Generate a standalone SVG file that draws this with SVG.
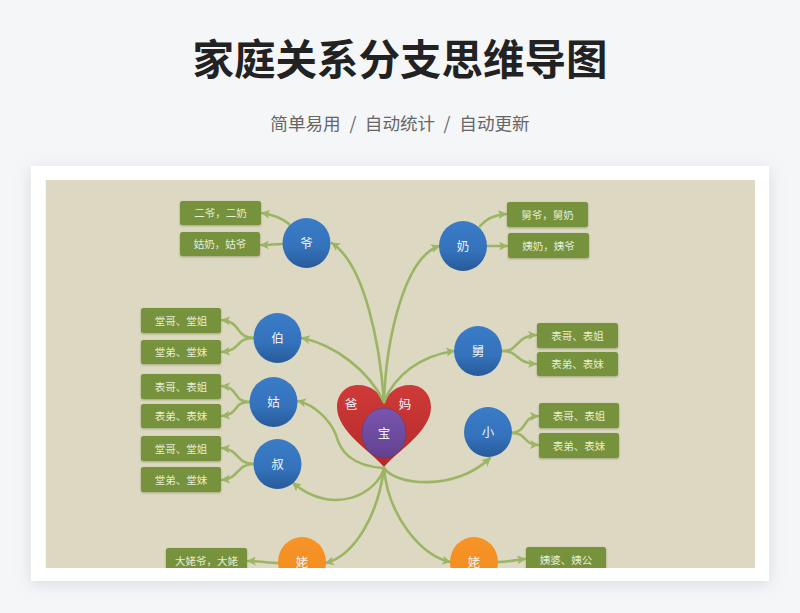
<svg xmlns="http://www.w3.org/2000/svg" width="800" height="613" viewBox="0 0 800 613">
<style>
.title{font:700 41.500px "Noto Sans CJK SC",sans-serif;fill:#222;text-anchor:middle}
.sub{font:400 17.600px "Noto Sans CJK SC",sans-serif;fill:#666;text-anchor:middle}
.box{fill:#76923c;filter:url(#ns)}
.bt{font:400 10.500px "Noto Sans CJK SC",sans-serif;fill:#e6ecd6;text-anchor:middle}
.ct{font:400 12.500px "Noto Sans CJK SC",sans-serif;fill:#eef3fa;text-anchor:middle}
.c{fill:none;stroke:#9bb564;stroke-width:2.600;stroke-linecap:round}
.a{marker-end:url(#arr)}
</style>
<defs>
<linearGradient id="blue" x1="0" y1="0" x2="0" y2="1"><stop offset="0" stop-color="#3a7cc8"/><stop offset=".6" stop-color="#3472bb"/><stop offset="1" stop-color="#285a9a"/></linearGradient>
<linearGradient id="orange" x1="0" y1="0" x2="0" y2="1"><stop offset="0" stop-color="#f79428"/><stop offset="1" stop-color="#f28a1c"/></linearGradient>
<linearGradient id="red" x1="0" y1="0" x2="0" y2="1"><stop offset="0" stop-color="#cf3a38"/><stop offset="1" stop-color="#b32a2a"/></linearGradient>
<linearGradient id="pur" x1="0" y1="0" x2="0" y2="1"><stop offset="0" stop-color="#7a55ae"/><stop offset="1" stop-color="#63418f"/></linearGradient>
<marker id="arr" viewBox="0 0 8 8" refX="7" refY="4" markerWidth="9" markerHeight="9" markerUnits="userSpaceOnUse" orient="auto"><path d="M0 0L8 4L0 8L2 4Z" fill="#9bb564"/></marker>
<filter id="card" x="-10%" y="-10%" width="120%" height="125%"><feDropShadow dx="0" dy="3" stdDeviation="8" flood-color="#8a94a6" flood-opacity=".28"/></filter>
<filter id="ns" x="-10%" y="-20%" width="120%" height="140%"><feDropShadow dx="0" dy="1" stdDeviation=".8" flood-color="#6d7a45" flood-opacity=".55"/></filter>
<clipPath id="clip"><rect x="45.500" y="180" width="709.500" height="388"/></clipPath>
</defs>
<rect width="800" height="613" fill="#f5f6f8"/>
<text class="title" x="400" y="75">家庭关系分支思维导图</text>
<g class="sub"><text x="305.500" y="130">简单易用</text><text x="353" y="130">/</text><text x="400" y="130">自动统计</text><text x="447" y="130">/</text><text x="494.500" y="130">自动更新</text></g>
<rect x="31" y="166" width="738" height="415" fill="#fff" filter="url(#card)"/>
<g clip-path="url(#clip)">
<rect x="45.500" y="180" width="709.500" height="388" fill="#ddd8c2"/>
<g id="heart"><path d="M384 467C372 452 337 432 337 407C337 394 346 385 358 385C371 385 381 393 384 404C387 393 397 385 410 385C422 385 431 394 431 407C431 432 396 452 384 467Z" fill="url(#red)"/><text class="ct" x="351" y="409">爸</text><text class="ct" x="405" y="409">妈</text></g>
<g id="connectors">
<path class="c a" d="M384 402C380 345 365 265 332 243"/>
<path class="c a" d="M384 402C386 340 404 258 439 246"/>
<path class="c a" d="M384 402C368 370 335 345 302 338"/>
<path class="c a" d="M384 402C395 375 420 356 454 351"/>
<path class="c a" d="M384 468C350 466 340 450 336 435C330 420 315 405 298 401"/>
<path class="c a" d="M384 468C378 492 335 518 293 483"/>
<path class="c a" d="M384 468C395 485 455 492 490 458"/>
<path class="c a" d="M384 468C378 515 355 555 326 563"/>
<path class="c a" d="M384 468C388 515 420 555 450 562"/>
<path class="c a" d="M289 224C282 218 275 215 262 213"/>
<path class="c a" d="M283 244C275 244 270 245 261 245"/>
<path class="c a" d="M254 338C235 338 242 322 222 320"/>
<path class="c a" d="M254 338C235 338 242 350 222 352"/>
<path class="c a" d="M250 402C232 402 240 388 222 386"/>
<path class="c a" d="M250 402C232 402 240 414 222 416"/>
<path class="c a" d="M254 464C236 464 240 450 222 448"/>
<path class="c a" d="M254 464C236 464 240 478 222 480"/>
<path class="c a" d="M278 563C268 563 260 561 248 561"/>
<path class="c a" d="M480 226C486 219 494 215 506 214"/>
<path class="c a" d="M487 246L507 246"/>
<path class="c a" d="M502 351C520 351 515 336 536 335"/>
<path class="c a" d="M502 351C520 351 515 363 536 364"/>
<path class="c a" d="M512 433C528 431 522 417 538 416"/>
<path class="c a" d="M512 433C528 433 522 444 538 445"/>
<path class="c a" d="M498 562C508 562 515 560 525 559"/>
</g>
<g id="n-bao"><ellipse cx="384" cy="433" rx="22" ry="25" fill="url(#pur)" stroke="#5a3d80" stroke-width=".6"/><text class="ct" x="384" y="438">宝</text></g>
<g id="n-ye"><ellipse cx="306.500" cy="243" rx="24" ry="25" fill="url(#blue)"/><text class="ct" x="306.500" y="248">爷</text></g>
<g id="n-bo"><ellipse cx="277.500" cy="338" rx="24" ry="25" fill="url(#blue)"/><text class="ct" x="277.500" y="343">伯</text></g>
<g id="n-gu"><ellipse cx="273.500" cy="402" rx="24" ry="25" fill="url(#blue)"/><text class="ct" x="273.500" y="407">姑</text></g>
<g id="n-shu"><ellipse cx="277.500" cy="464" rx="24" ry="25" fill="url(#blue)"/><text class="ct" x="277.500" y="469">叔</text></g>
<g id="n-lao1"><ellipse cx="302" cy="562" rx="24" ry="25" fill="url(#orange)"/><text class="ct" x="302" y="567">姥</text></g>
<g id="n-nai"><ellipse cx="463" cy="246" rx="24" ry="25" fill="url(#blue)"/><text class="ct" x="463" y="251">奶</text></g>
<g id="n-jiu"><ellipse cx="478" cy="351" rx="24" ry="25" fill="url(#blue)"/><text class="ct" x="478" y="356">舅</text></g>
<g id="n-xiao"><ellipse cx="488" cy="432" rx="24" ry="25" fill="url(#blue)"/><text class="ct" x="488" y="437">小</text></g>
<g id="n-lao2"><ellipse cx="474" cy="562" rx="24" ry="25" fill="url(#orange)"/><text class="ct" x="474" y="567">姥</text></g>
<g id="b1"><rect class="box" x="180" y="201" width="81" height="24" rx="2.500"/><text class="bt" x="220.500" y="217">二爷，二奶</text></g>
<g id="b2"><rect class="box" x="180" y="232" width="80" height="24" rx="2.500"/><text class="bt" x="220" y="248">姑奶，姑爷</text></g>
<g id="b3"><rect class="box" x="141" y="308" width="80" height="25" rx="2.500"/><text class="bt" x="181" y="325">堂哥、堂姐</text></g>
<g id="b4"><rect class="box" x="141" y="340" width="80" height="24" rx="2.500"/><text class="bt" x="181" y="356">堂弟、堂妹</text></g>
<g id="b5"><rect class="box" x="141" y="374" width="80" height="25" rx="2.500"/><text class="bt" x="181" y="391">表哥、表姐</text></g>
<g id="b6"><rect class="box" x="141" y="404" width="80" height="24" rx="2.500"/><text class="bt" x="181" y="420">表弟、表妹</text></g>
<g id="b7"><rect class="box" x="141" y="436" width="80" height="25" rx="2.500"/><text class="bt" x="181" y="453">堂哥、堂姐</text></g>
<g id="b8"><rect class="box" x="141" y="467" width="80" height="25" rx="2.500"/><text class="bt" x="181" y="484">堂弟、堂妹</text></g>
<g id="b9"><rect class="box" x="166" y="548" width="81" height="25" rx="2.500"/><text class="bt" x="206.500" y="565">大姥爷，大姥</text></g>
<g id="b10"><rect class="box" x="507" y="202" width="81" height="25" rx="2.500"/><text class="bt" x="547.500" y="219">舅爷，舅奶</text></g>
<g id="b11"><rect class="box" x="508" y="233" width="81" height="25" rx="2.500"/><text class="bt" x="548.500" y="250">姨奶，姨爷</text></g>
<g id="b12"><rect class="box" x="537" y="323" width="81" height="25" rx="2.500"/><text class="bt" x="577.500" y="340">表哥、表姐</text></g>
<g id="b13"><rect class="box" x="537" y="352" width="81" height="24" rx="2.500"/><text class="bt" x="577.500" y="368">表弟、表妹</text></g>
<g id="b14"><rect class="box" x="539" y="403" width="80" height="25" rx="2.500"/><text class="bt" x="579" y="420">表哥、表姐</text></g>
<g id="b15"><rect class="box" x="539" y="433" width="80" height="25" rx="2.500"/><text class="bt" x="579" y="450">表弟、表妹</text></g>
<g id="b16"><rect class="box" x="526" y="547" width="80" height="25" rx="2.500"/><text class="bt" x="566" y="564">姨婆、姨公</text></g>
</g>
</svg>
